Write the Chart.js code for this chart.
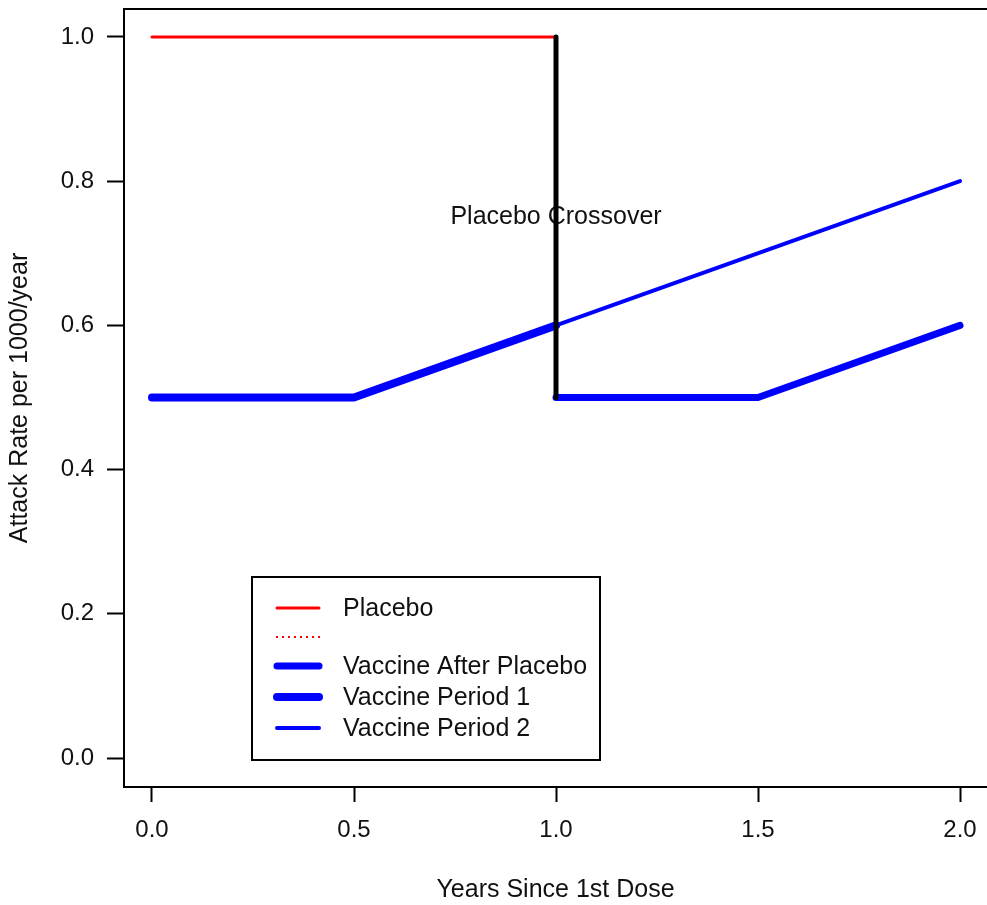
<!DOCTYPE html>
<html>
<head>
<meta charset="utf-8">
<script src="https://cdn.jsdelivr.net/npm/chart.js@4/dist/chart.umd.min.js"></script>
<style>
  html, body { margin: 0; padding: 0; background: #fff; }
  #wrap { width: 987px; height: 905px; }
</style>
</head>
<body>
<div id="wrap"><canvas id="chart"></canvas></div>
<script>
// values
const xTicks = [0, 0.5, 1.0, 1.5, 2.0];
const yTicks = [0, 0.2, 0.4, 0.6, 0.8, 1.0];

const placeboX = [0, 1.0];
const placeboY = [1.0, 1.0];
const crossoverX = [1.0, 1.0];
const crossoverY = [1.0, 0.5];
const period1X = [0, 0.5, 1.0];
const period1Y = [0.5, 0.5, 0.6];
const period2X = [1.0, 2.0];
const period2Y = [0.6, 0.8];
const afterX = [1.0, 1.5, 2.0];
const afterY = [0.5, 0.5, 0.6];

const noteText = 'Placebo Crossover';
const noteX = 1.0;
const noteY = 0.75;

const FONT = 'Liberation Sans, Arial, sans-serif';
const INK = '#111';

function pts(xs, ys) {
  return xs.map((x, i) => ({x: x, y: ys[i]}));
}

function line(label, xs, ys, color, width, extra) {
  return Object.assign({
    label: label,
    data: pts(xs, ys),
    borderColor: color,
    backgroundColor: color,
    borderWidth: width,
    borderCapStyle: 'round',
    borderJoinStyle: 'round',
    pointRadius: 0,
    tension: 0,
    fill: false
  }, extra || {});
}

const datasets = [
  line('Placebo', placeboX, placeboY, '#ff0000', 3, {order: 5}),
  line('', [], [], '#ff0000', 2, {borderDash: [2, 4], borderCapStyle: 'butt', order: 6}),
  line('Vaccine After Placebo', afterX, afterY, '#0000ff', 7, {order: 3}),
  line('Vaccine Period 1', period1X, period1Y, '#0000ff', 8, {order: 4}),
  line('Vaccine Period 2', period2X, period2Y, '#0000ff', 4, {order: 2}),
  line('crossover', crossoverX, crossoverY, '#000000', 5, {borderCapStyle: 'butt', order: 1, hideLegend: true})
];

// text note, under the lines like in the original
const notePlugin = {
  id: 'note',
  beforeDatasetsDraw(chart) {
    const ctx = chart.ctx;
    const px = chart.scales.x.getPixelForValue(noteX);
    const py = chart.scales.y.getPixelForValue(noteY);
    ctx.save();
    ctx.font = '25px ' + FONT;
    ctx.fillStyle = INK;
    ctx.textAlign = 'center';
    ctx.textBaseline = 'middle';
    ctx.fillText(noteText, px, py);
    ctx.restore();
  }
};

// top frame line + boxed legend
const framePlugin = {
  id: 'frame',
  afterDraw(chart) {
    const ctx = chart.ctx;
    const a = chart.chartArea;
    ctx.save();
    ctx.strokeStyle = '#000';
    ctx.lineWidth = 2;
    ctx.beginPath();
    ctx.moveTo(a.left, a.top);
    ctx.lineTo(a.right, a.top);
    ctx.stroke();

    // legend box
    const bx = 252, by = 577, bw = 348, bh = 183;
    ctx.lineWidth = 2;
    ctx.strokeRect(bx, by, bw, bh);
    const rows = [608, 637, 666, 697, 728];
    let r = 0;
    chart.data.datasets.forEach((ds) => {
      if (ds.hideLegend) return;
      const y = rows[r++];
      ctx.beginPath();
      ctx.strokeStyle = ds.borderColor;
      ctx.lineWidth = ds.borderWidth;
      ctx.lineCap = ds.borderCapStyle;
      ctx.setLineDash(ds.borderDash || []);
      ctx.moveTo(ds.borderDash ? 276 : 277, y);
      ctx.lineTo(ds.borderDash ? 322 : 319, y);
      ctx.stroke();
      ctx.setLineDash([]);
      ctx.font = '25px ' + FONT;
      ctx.fillStyle = INK;
      ctx.textAlign = 'left';
      ctx.textBaseline = 'middle';
      ctx.fillText(ds.label, 343, y + 1);
    });
    ctx.restore();
  }
};

new Chart(document.getElementById('chart'), {
  type: 'line',
  data: {datasets: datasets},
  options: {
    responsive: true,
    maintainAspectRatio: false,
    animation: false,
    layout: {padding: {top: 9, right: 0, left: 0, bottom: 0}},
    plugins: {
      legend: {display: false},
      tooltip: {enabled: false}
    },
    scales: {
      x: {
        type: 'linear',
        min: -0.0693,
        max: 2.0668,
        afterFit: (s) => { s.height = 118; s.paddingLeft = 0; s.paddingRight = 0; },
        afterBuildTicks: (s) => { s.ticks = xTicks.map((v) => ({value: v})); },
        border: {display: true, color: '#000', width: 2},
        grid: {drawOnChartArea: false, color: '#000', tickLength: 15, tickWidth: 2},
        ticks: {
          color: INK,
          font: {family: FONT, size: 24},
          padding: 14,
          maxRotation: 0,
          callback: (v) => Number(v).toFixed(1)
        },
        title: {
          display: true,
          text: 'Years Since 1st Dose',
          color: INK,
          font: {family: FONT, size: 25},
          padding: {top: 0, bottom: 0}
        }
      },
      y: {
        type: 'linear',
        min: -0.0402,
        max: 1.0388,
        afterFit: (s) => { s.width = 124; s.paddingTop = 0; s.paddingBottom = 0; },
        afterBuildTicks: (s) => { s.ticks = yTicks.map((v) => ({value: v})); },
        border: {display: true, color: '#000', width: 2},
        grid: {drawOnChartArea: false, color: '#000', tickLength: 17, tickWidth: 2},
        ticks: {
          color: INK,
          font: {family: FONT, size: 24},
          padding: 13,
          callback: (v) => Number(v).toFixed(1)
        },
        title: {
          display: true,
          text: 'Attack Rate per 1000/year',
          color: INK,
          font: {family: FONT, size: 25},
          padding: {top: 5, bottom: 0}
        }
      }
    }
  },
  plugins: [notePlugin, framePlugin]
});
</script>
</body>
</html>
